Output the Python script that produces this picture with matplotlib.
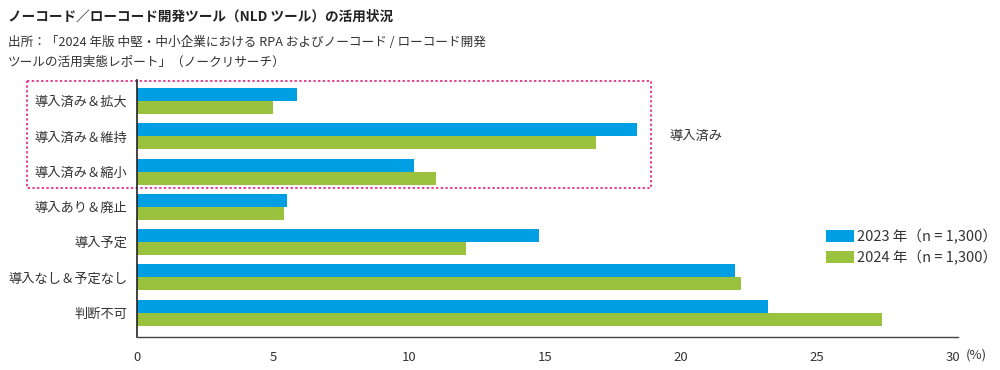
import matplotlib
matplotlib.use('Agg')
import matplotlib.pyplot as plt
import matplotlib.patches as mpatches
import matplotlib.transforms as mtransforms
import numpy as np

plt.rcParams['font.family'] = ['Noto Sans CJK JP', 'DejaVu Sans']

# データ
categories = ['導入済み＆拡大', '導入済み＆維持', '導入済み＆縮小', '導入あり＆廃止',
              '導入予定', '導入なし＆予定なし', '判断不可']
values_2023 = [5.9, 18.4, 10.2, 5.5, 14.8, 22.0, 23.2]
values_2024 = [5.0, 16.9, 11.0, 5.4, 12.1, 22.2, 27.4]
series_labels = ['2023 年（n = 1,300）', '2024 年（n = 1,300）']
xticks = [0, 5, 10, 15, 20, 25, 30]

blue = '#009FE3'
green = '#9BC23F'
text_col = '#333333'

fig = plt.figure(figsize=(10, 3.7), dpi=100)
ax = fig.add_axes([0.137, 33 / 370, 0.821, 257 / 370])

y = np.arange(len(categories))
h = 0.37
ax.barh(y - h / 2, values_2023, height=h, color=blue, label=series_labels[0])
ax.barh(y + h / 2, values_2024, height=h, color=green, label=series_labels[1])

ax.set_xlim(0, 30.2)
ax.set_ylim(6.69, -0.6)
ax.set_yticks(y)
ax.set_yticklabels(categories, fontsize=9.5, color=text_col)
ax.set_xticks(xticks)
ax.set_xticklabels([str(t) for t in xticks], fontsize=9.5, color=text_col)
ax.tick_params(length=0)
ax.tick_params(axis='y', pad=7)
ax.tick_params(axis='x', pad=10)
for s in ['top', 'right']:
    ax.spines[s].set_visible(False)
ax.spines['left'].set_color('#222222')
ax.spines['bottom'].set_color('#444444')
ax.spines['left'].set_linewidth(1.2)
ax.spines['bottom'].set_linewidth(1.0)

# 「導入済み」の点線枠
trans = mtransforms.blended_transform_factory(ax.transAxes, ax.transData)
box = mpatches.Rectangle((-0.134, -0.57), 0.760, 3.03, transform=trans,
                         fill=False, edgecolor='#E0338A', linewidth=1.3,
                         linestyle=(0, (1.3, 1.3)), clip_on=False)
ax.add_patch(box)
ax.text(0.648, 1, '導入済み', transform=trans, fontsize=9.5, color=text_col,
        va='center', ha='left')

fig.text(0.976, 1 - 355 / 370, '(%)', fontsize=9.5, color=text_col, va='center', ha='center')

leg = ax.legend(loc='upper left', bbox_to_anchor=(0.826, 1 - 229 / 370),
                bbox_transform=fig.transFigure, frameon=False, fontsize=10.5,
                handlelength=1.9, handleheight=0.95, handletextpad=0.2,
                labelspacing=0.4, borderaxespad=0, borderpad=0)
for t in leg.get_texts():
    t.set_color(text_col)

fig.text(0.008, 1 - 17 / 370, 'ノーコード／ローコード開発ツール（NLD ツール）の活用状況',
         fontsize=9.8, fontweight='bold', color='#222222', va='center', ha='left')
fig.text(0.008, 1 - 43 / 370, '出所：「2024 年版 中堅・中小企業における RPA およびノーコード / ローコード開発',
         fontsize=9.1, color=text_col, va='center', ha='left')
fig.text(0.008, 1 - 62 / 370, 'ツールの活用実態レポート」（ノークリサーチ）',
         fontsize=9.1, color=text_col, va='center', ha='left')

fig.savefig('out.png', dpi=100)
